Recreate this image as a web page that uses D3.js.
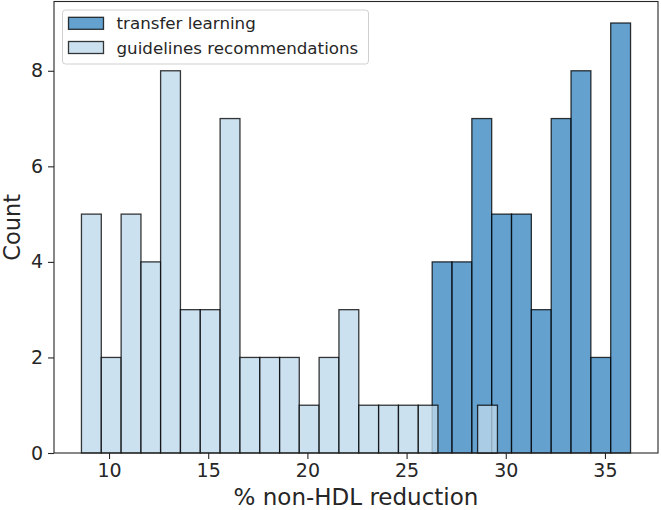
<!DOCTYPE html>
<html>
<head>
<meta charset="utf-8">
<script src="https://cdn.jsdelivr.net/npm/d3@7"></script>
<style>
  html, body { margin: 0; padding: 0; background: #fff; }
  svg { display: block; }
  text { font-family: "DejaVu Sans", sans-serif; fill: #262626; }
</style>
</head>
<body>
<svg id="chart" width="661" height="510"></svg>
<script>
// ---- data ----
const seriesNames = ["transfer learning", "guidelines recommendations"];
// transfer learning histogram (bin edges and counts)
const transferEdges = [26.29, 27.29, 28.29, 29.29, 30.29, 31.29, 32.29, 33.29, 34.29, 35.29, 36.29];
const transferCounts = [4, 4, 7, 5, 5, 3, 7, 8, 2, 9];
// guidelines recommendations histogram
const guideEdges = [8.61, 9.61, 10.61, 11.61, 12.60, 13.60, 14.60, 15.60, 16.60, 17.60, 18.60,
                    19.59, 20.59, 21.59, 22.59, 23.59, 24.59, 25.59, 26.58, 27.58, 28.58, 29.58];
const guideCounts = [5, 2, 5, 4, 8, 3, 3, 7, 2, 2, 2, 1, 2, 3, 1, 1, 1, 1, 0, 0, 1];
const xTicks = [10, 15, 20, 25, 30, 35];
const yTicks = [0, 2, 4, 6, 8];
const xLabel = "% non-HDL reduction";
const yLabel = "Count";

// ---- layout ----
const svg = d3.select("#chart");
const L = 54, R = 658, T = 1.5, B = 453;
const colors = { transfer: "rgb(57,135,192)", guide: "rgb(190,217,236)" };
const barAlpha = 0.78;

const allEdges = transferEdges.concat(guideEdges);
const xmin = d3.min(allEdges), xmax = d3.max(allEdges);
const pad = (xmax - xmin) * 0.05;
const x = d3.scaleLinear().domain([xmin - pad, xmax + pad]).range([L, R]);
const ymax = d3.max(transferCounts.concat(guideCounts)) * 1.05;
const y = d3.scaleLinear().domain([0, ymax]).range([B, T]);

function bins(edges, counts) {
  return counts.map((c, i) => ({ x0: edges[i], x1: edges[i + 1], c }))
               .filter(d => d.c > 0);
}

function drawBars(data, color) {
  svg.append("g").selectAll("rect").data(data).join("rect")
    .attr("x", d => x(d.x0))
    .attr("width", d => x(d.x1) - x(d.x0))
    .attr("y", d => y(d.c))
    .attr("height", d => y(0) - y(d.c))
    .attr("fill", color)
    .attr("fill-opacity", barAlpha)
    .attr("stroke", "#000")
    .attr("stroke-opacity", barAlpha)
    .attr("stroke-width", 1.3);
}

drawBars(bins(transferEdges, transferCounts), colors.transfer);
drawBars(bins(guideEdges, guideCounts), colors.guide);

// axes
const xAxis = svg.append("g").attr("transform", `translate(0,${B})`)
  .call(d3.axisBottom(x).tickValues(xTicks).tickFormat(d3.format("d")).tickSize(6).tickPadding(5));
const yAxis = svg.append("g").attr("transform", `translate(${L},0)`)
  .call(d3.axisLeft(y).tickValues(yTicks).tickFormat(d3.format("d")).tickSize(6).tickPadding(5));
[xAxis, yAxis].forEach(a => {
  a.select(".domain").remove();
  a.selectAll(".tick line").attr("stroke", "#262626").attr("stroke-width", 1.1);
  a.selectAll(".tick text").attr("font-size", 19).attr("font-family", "DejaVu Sans").attr("fill", "#262626");
});

// frame
svg.append("rect").attr("x", L).attr("y", T).attr("width", R - L).attr("height", B - T)
  .attr("fill", "none").attr("stroke", "#262626").attr("stroke-width", 1.1);

// axis labels
svg.append("text").attr("x", (L + R) / 2).attr("y", 505).attr("text-anchor", "middle")
  .attr("font-size", 23).text(xLabel);
svg.append("text").attr("transform", `translate(19.5,${(T + B) / 2}) rotate(-90)`)
  .attr("text-anchor", "middle").attr("font-size", 22.5).text(yLabel);

// legend
const lg = svg.append("g");
lg.append("rect").attr("x", 62.5).attr("y", 10).attr("width", 306).attr("height", 54).attr("rx", 3)
  .attr("fill", "#fff").attr("fill-opacity", 0.8).attr("stroke", "#d0d0d0").attr("stroke-width", 1);
const legendItems = [
  { name: seriesNames[0], color: colors.transfer },
  { name: seriesNames[1], color: colors.guide }
];
legendItems.forEach((d, i) => {
  const cy = 23.3 + i * 24.2;
  lg.append("rect").attr("x", 68.5).attr("y", cy - 6).attr("width", 35).attr("height", 12)
    .attr("fill", d.color).attr("fill-opacity", barAlpha)
    .attr("stroke", "#000").attr("stroke-opacity", barAlpha).attr("stroke-width", 1.3);
  lg.append("text").attr("x", 116.5).attr("y", cy + 6).attr("font-size", 16.7).text(d.name);
});
</script>
</body>
</html>
